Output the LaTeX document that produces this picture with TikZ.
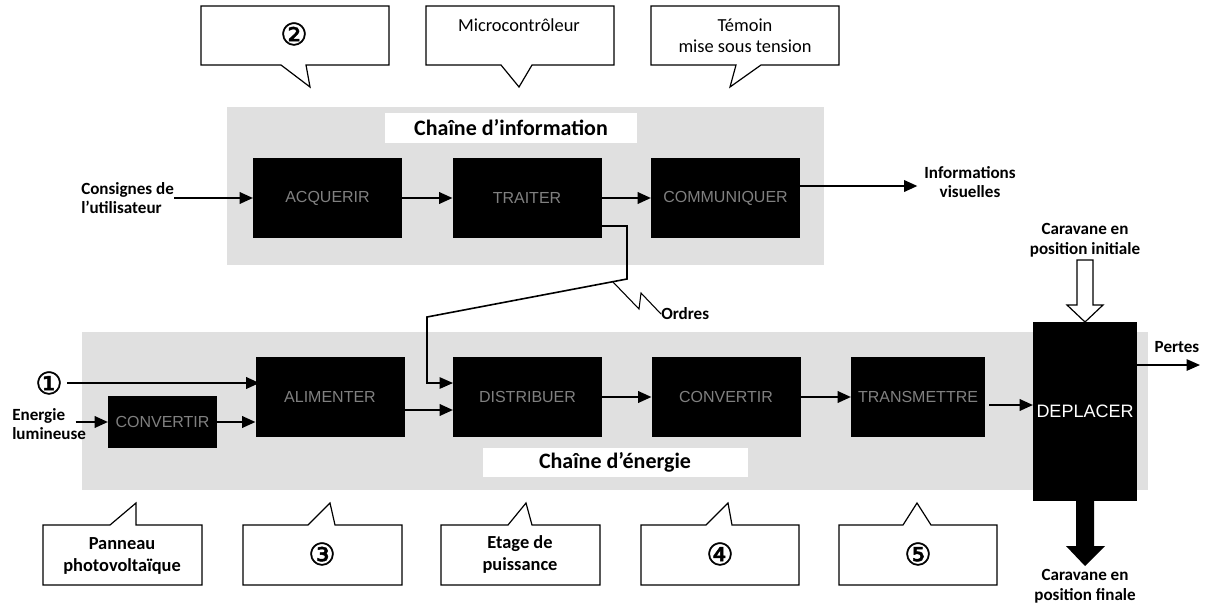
\documentclass[tikz,border=0pt]{standalone}
\usepackage{fontspec}
\setmainfont{Carlito}
\newfontfamily\arialf{Liberation Sans}
\newfontfamily\circfont[FakeBold=1.5]{DejaVu Sans}
\usetikzlibrary{arrows.meta,calc}
\begin{document}
\begin{tikzpicture}[x=0.75pt,y=-0.75pt,
  bg/.style={fill=black!12},
  blk/.style={fill=black, inner sep=0pt, outer sep=0pt, minimum width=111.75pt, minimum height=60pt,
    text=black!50, font=\arialf\fontsize{12}{14}\selectfont},
  arr/.style={line width=1.8pt, -{Triangle[length=10pt,width=8.5pt]}},
  thinarr/.style={line width=1.2pt, -{Triangle[length=10pt,width=8.5pt]}},
  lbl/.style={font=\bfseries\fontsize{12.8}{14.8}\selectfont, inner sep=0pt},
  ttl/.style={font=\bfseries\fontsize{16.5}{19}\selectfont, inner sep=0pt},
  cl/.style={fill=white, draw=black, line width=0.9pt, line join=miter},
  ctext/.style={font=\fontsize{13.8}{16}\selectfont, align=center, inner sep=0pt},
  cbtext/.style={font=\bfseries\fontsize{13.8}{16.5}\selectfont, align=center, inner sep=0pt},
  circ/.style={font=\circfont\fontsize{23}{23}\selectfont, inner sep=0pt}]
\useasboundingbox (0,0) rectangle (1209,603);

% ---------- top callouts ----------
\draw[cl] (201,6) -- (389,6) -- (389,65) -- (306,65) -- (310,87) -- (281,65) -- (201,65) -- cycle;
\node[circ] (n2) at (294,34) {②};
\draw[cl] (426,6) -- (614,6) -- (614,65) -- (532,65) -- (519,87) -- (501,65) -- (426,65) -- cycle;
\node[ctext] (mc) at (519,25) {Microcontrôleur};
\draw[cl] (651,6) -- (839,6) -- (839,65) -- (761,65) -- (730,87) -- (736,65) -- (651,65) -- cycle;
\node[ctext] (tm) at (745,36) {Témoin\\mise sous tension};

% ---------- information chain ----------
\fill[bg] (227,107) rectangle (824,265);
\fill[white] (385,113) rectangle (637,143);
\node[ttl] (tinfo) at (511,128) {Chaîne d'information};

\node[blk] (acq) at (327.5,198) {ACQUERIR};
\node[blk] (trt) at (527,198) {TRAITER};
\node[blk] (com) at (725.5,198) {COMMUNIQUER};

\node[lbl, align=left, anchor=west] (cons) at (81,198) {Consignes de\\l'utilisateur};
\draw[arr] (cons.east) -- (acq.west);
\draw[arr] (acq) -- (trt);
\draw[arr] (trt) -- (com);
\node[lbl, align=center] (info) at (970,182) {Informations\\visuelles};
\draw[arr] ([yshift=9pt]com.east) -- ([yshift=9pt,xshift=-5pt]com.east -| info.west);

% ---------- energy chain ----------
\fill[bg] (82,332) rectangle (1148,490);
\fill[white] (483,448) rectangle (748,477);
\node[ttl] (tene) at (615,462) {Chaîne d'énergie};

\node[blk, minimum width=81.75pt, minimum height=39pt] (cv1) at (162.5,422) {CONVERTIR};
\node[blk] (ali) at (330,397) {ALIMENTER};
\node[blk] (dis) at (527.5,397) {DISTRIBUER};
\node[blk] (cv2) at (726,397) {CONVERTIR};
\node[blk, minimum width=100.5pt] (tra) at (918,397) {TRANSMETTRE};
\node[fill=black, inner sep=0pt, outer sep=0pt, minimum width=78pt, minimum height=134.25pt,
  text=white, font=\arialf\fontsize{13.5}{15}\selectfont] (dep) at (1085,411.5) {DEPLACER};

% ---------- orders ----------
\coordinate (ok1) at (627,279);
\coordinate (ok2) at (427,317);
\draw[thinarr] ([yshift=-21pt]trt.east) -| (ok1) -- (ok2) |- ([yshift=10.5pt]dis.west);
\node[lbl, anchor=west] (ord) at (661,314) {Ordres};
\coordinate (oz) at (613,282);
\draw[line width=0.8pt] (oz) -- (639,309) -- (641,293) -- (ord.west);

\node[circ] (un) at (49,383) {①};
\draw[arr] ([xshift=3pt]un.east) -- ([xshift=3pt]un.east -| ali.west);
\node[lbl, align=left, anchor=west] (elum) at (12,424) {Energie\\lumineuse};
\draw[arr] ([xshift=-8pt]elum.east |- cv1.west) -- (cv1.west);
\draw[arr] (cv1.east) -- (cv1.east -| ali.west);
\draw[arr] ([yshift=-9.75pt]ali.east) -- ([yshift=-9.75pt]ali.east -| dis.west);
\draw[arr] (dis) -- (cv2);
\draw[arr] (cv2) -- (tra);
\draw[arr] ([xshift=3pt,yshift=-6pt]tra.east) -- ([yshift=-6pt]tra.east -| dep.west);

\coordinate (pend) at (1200,365);
\node[lbl] (per) at (1177,347) {Pertes};
\draw[thinarr] (dep.east |- pend) -- (pend);

% input: caravane initiale (hollow arrow)
\node[lbl, align=center] (cini) at (1085,240) {Caravane en\\position initiale};
\draw[line width=0.9pt, fill=white, line join=miter] (1077,260) -- (1093,260) -- (1093,305) -- (1103,305) -- (dep.north) -- (1067,305) -- (1077,305) -- cycle;
% output: caravane finale (thick arrow)
\fill[black] (1076,501) -- (1094,501) -- (1094,546) -- (1105,546) -- (1085,566) -- (1066,546) -- (1076,546) -- cycle;
\node[lbl, align=center] (cfin) at (1085,586) {Caravane en\\position finale};

% ---------- bottom callouts ----------
\draw[cl] (43,525) -- (110,525) -- (136,503) -- (136,525) -- (202,525) -- (202,585) -- (43,585) -- cycle;
\node[cbtext] (pv) at (122,556) {Panneau\\photovoltaïque};
\draw[cl] (243,525) -- (308,525) -- (330,503) -- (335,525) -- (402,525) -- (402,585) -- (243,585) -- cycle;
\node[circ] (n3) at (322,554) {③};
\draw[cl] (441,525) -- (508,525) -- (526,503) -- (532,525) -- (600,525) -- (600,585) -- (441,585) -- cycle;
\node[cbtext] (ep) at (520,554) {Etage de\\puissance};
\draw[cl] (641,525) -- (706,525) -- (728,503) -- (732,525) -- (799,525) -- (799,585) -- (641,585) -- cycle;
\node[circ] (n4) at (720,554) {④};
\draw[cl] (839,525) -- (903,525) -- (917,503) -- (931,525) -- (997,525) -- (997,585) -- (839,585) -- cycle;
\node[circ] (n5) at (918,554) {⑤};
\end{tikzpicture}
\end{document}
